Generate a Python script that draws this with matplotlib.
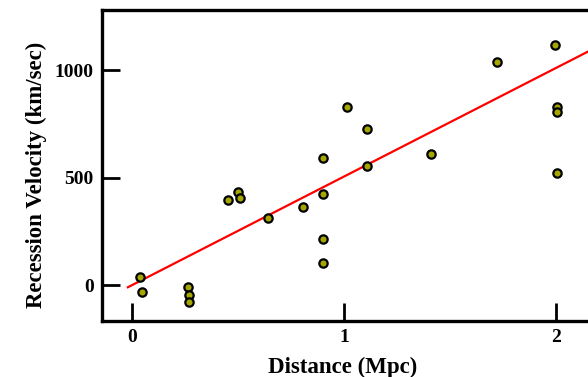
# Hubble-style velocity vs distance diagram with linear fit

import numpy as np
import matplotlib.pyplot as plt

# Data
distance_mpc = [0.038, 0.047, 0.264, 0.269, 0.269, 0.453, 0.50, 0.509, 0.642,
                0.807, 0.90, 0.90, 0.90, 0.90, 1.014, 1.108, 1.108, 1.41,
                1.72, 1.995, 2.005, 2.005, 2.005]
velocity_kms = [37, -33, -9, -47, -79, 395, 432, 405, 312,
                363, 590, 423, 214, 102, 828, 725, 553, 609,
                1037, 1116, 828, 805, 521]

# Fit line as drawn
fit_slope = 505
fit_x = [-0.02, 2.2]

x_ticks = [0, 1, 2]
y_ticks = [0, 500, 1000]

fig = plt.figure(figsize=(5.88, 3.77), dpi=100)
ax = fig.add_axes([102 / 588, 56 / 377, 500 / 588, 311 / 377])

ax.plot(fit_x, [fit_slope * x for x in fit_x], color="red", linewidth=1.6, zorder=2)
ax.plot(distance_mpc, velocity_kms, "o", markersize=6, markerfacecolor="#a6a600",
        markeredgecolor="black", markeredgewidth=1.6, zorder=3)

ax.set_xlim(-0.142, 2.216)
ax.set_ylim(-167, 1279)
ax.set_xticks(x_ticks)
ax.set_yticks(y_ticks)

for side in ["left", "bottom", "top"]:
    ax.spines[side].set_linewidth(2.4)
ax.spines["right"].set_visible(False)

ax.tick_params(direction="in", length=13, width=2, labelsize=14, pad=6)
for lab in ax.get_xticklabels() + ax.get_yticklabels():
    lab.set_fontfamily("Liberation Serif")
    lab.set_fontweight("bold")

ax.set_xlabel("Distance (Mpc)", fontsize=16.5, family="Liberation Serif",
              fontweight="bold")
ax.xaxis.set_label_coords((343 - 102) / 500, -0.115)
ax.set_ylabel("Recession Velocity (km/sec)", fontsize=16.5, family="Liberation Serif",
              fontweight="bold")
ax.yaxis.set_label_coords(-0.11, 0.47)

fig.savefig("out.png", dpi=100)
plt.close("all")
